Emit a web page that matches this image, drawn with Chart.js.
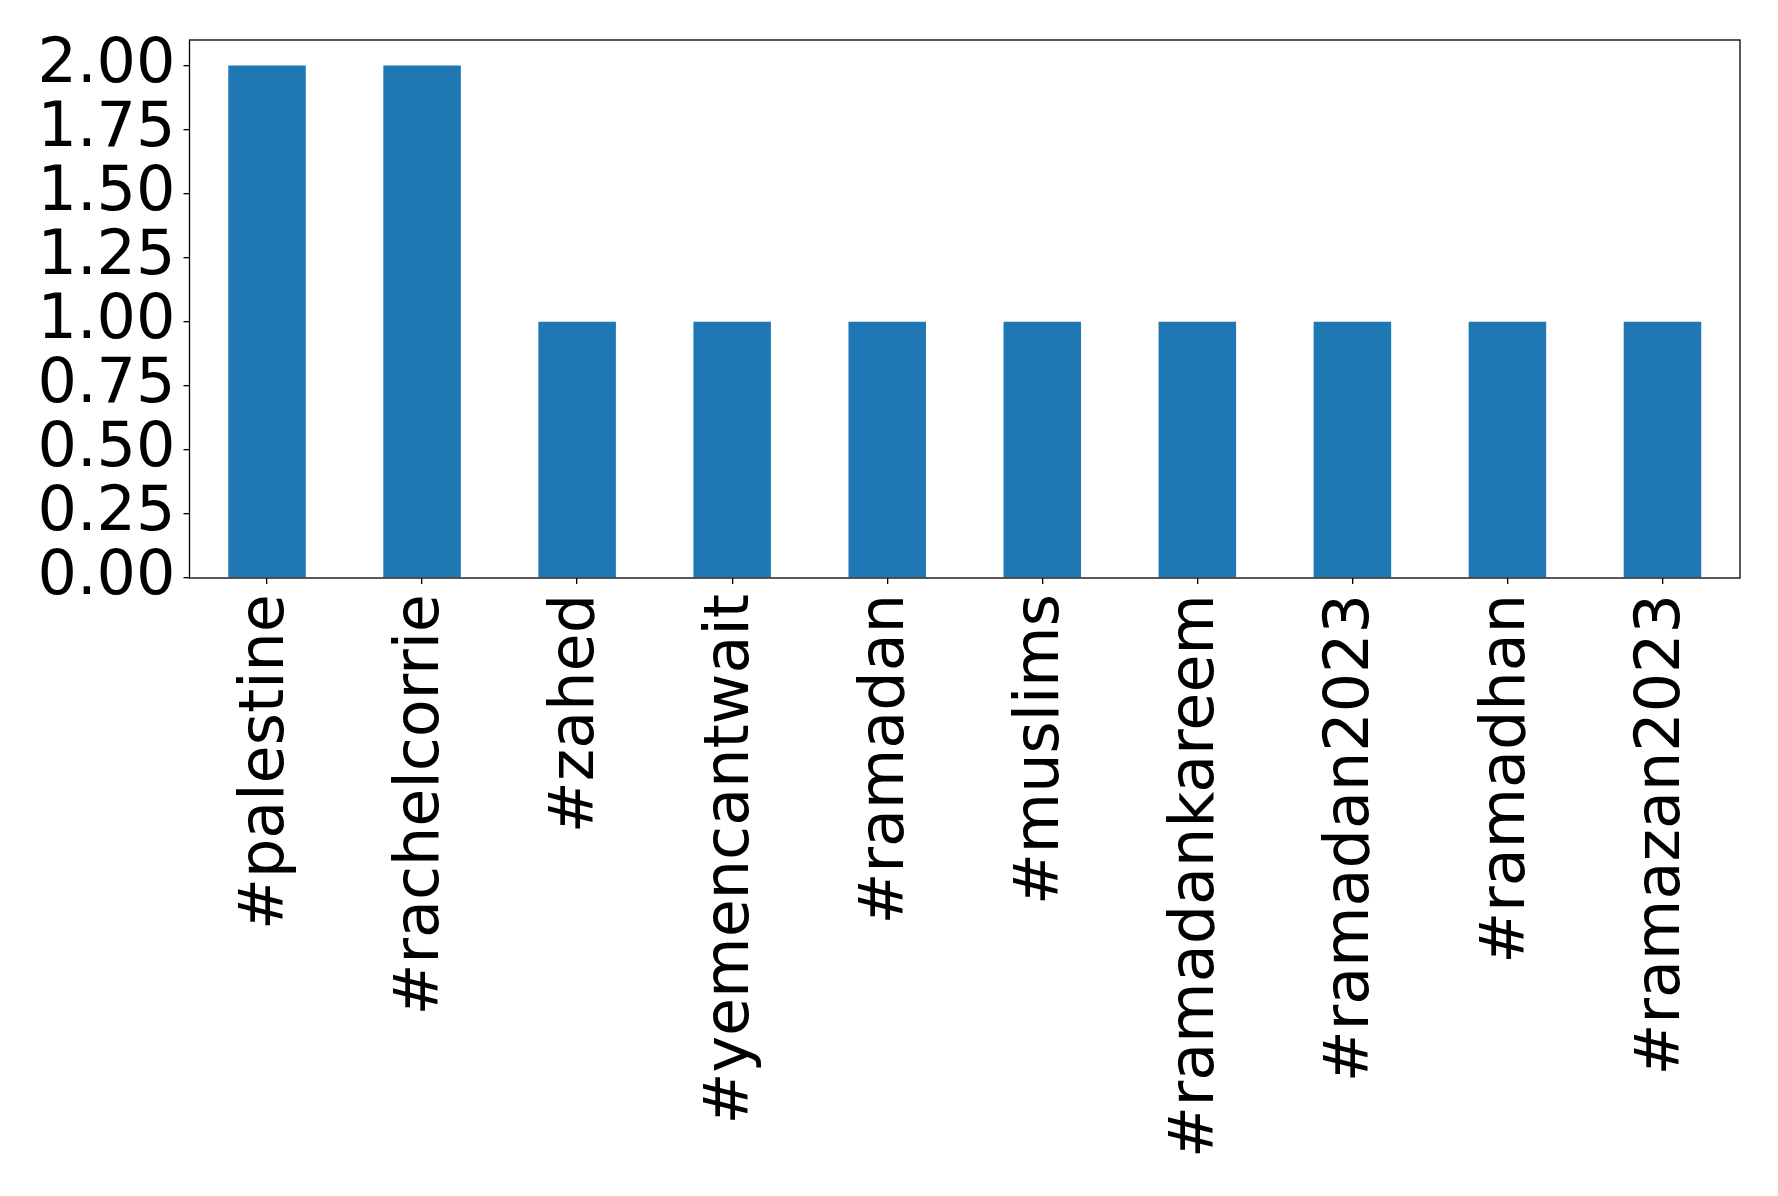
<!DOCTYPE html>
<html>
<head>
<meta charset="utf-8">
<script src="https://cdn.jsdelivr.net/npm/chart.js@4/dist/chart.umd.min.js"></script>
<style>
html,body{margin:0;padding:0;background:#fff;}
#wrap{width:1778px;height:1196px;}
</style>
</head>
<body>
<div id="wrap"><canvas id="c" width="1778" height="1196"></canvas></div>
<script>
const categories = ["#palestine","#rachelcorrie","#zahed","#yemencantwait","#ramadan","#muslims","#ramadankareem","#ramadan2023","#ramadhan","#ramazan2023"];
const counts = [2,2,1,1,1,1,1,1,1,1];
const yTicks = [0,0.25,0.5,0.75,1.0,1.25,1.5,1.75,2.0];

const frame = {
  id:'frame',
  afterDraw(chart){
    const a = chart.chartArea, ctx = chart.ctx;
    ctx.save();
    ctx.strokeStyle = '#000';
    ctx.lineWidth = 1.3;
    ctx.strokeRect(a.left, a.top, a.right - a.left, a.bottom - a.top);
    ctx.restore();
  }
};

new Chart(document.getElementById('c'), {
  type:'bar',
  data:{labels:categories, datasets:[{data:counts, backgroundColor:'#1f77b4', borderWidth:0, barPercentage:0.5, categoryPercentage:1.0}]},
  options:{
    responsive:false, animation:false, devicePixelRatio:1,
    layout:{padding:{top:40, right:38, left:0, bottom:0}},
    plugins:{legend:{display:false}, tooltip:{enabled:false}},
    scales:{
      x:{
        offset:true,
        grid:{display:true, offset:false, drawOnChartArea:false, drawTicks:true, tickLength:6, tickColor:'#000', lineWidth:1.3},
        border:{display:false},
        ticks:{color:'#000', font:{family:'DejaVu Sans', size:62}, minRotation:90, maxRotation:90, padding:10, autoSkip:false},
        afterFit(s){ s.height = 1196 - 578; }
      },
      y:{
        min:0, max:2.1,
        grid:{display:true, drawOnChartArea:false, drawTicks:true, tickLength:6, tickColor:'#000', lineWidth:1.3},
        border:{display:false},
        afterBuildTicks(s){ s.ticks = yTicks.map(v=>({value:v})); },
        ticks:{color:'#000', font:{family:'DejaVu Sans', size:62, lineHeight:1.0}, padding:8, autoSkip:false, callback:(v)=>Number(v).toFixed(2)},
        afterFit(s){ s.width = 189.5; }
      }
    }
  },
  plugins:[frame]
});
</script>
</body>
</html>
